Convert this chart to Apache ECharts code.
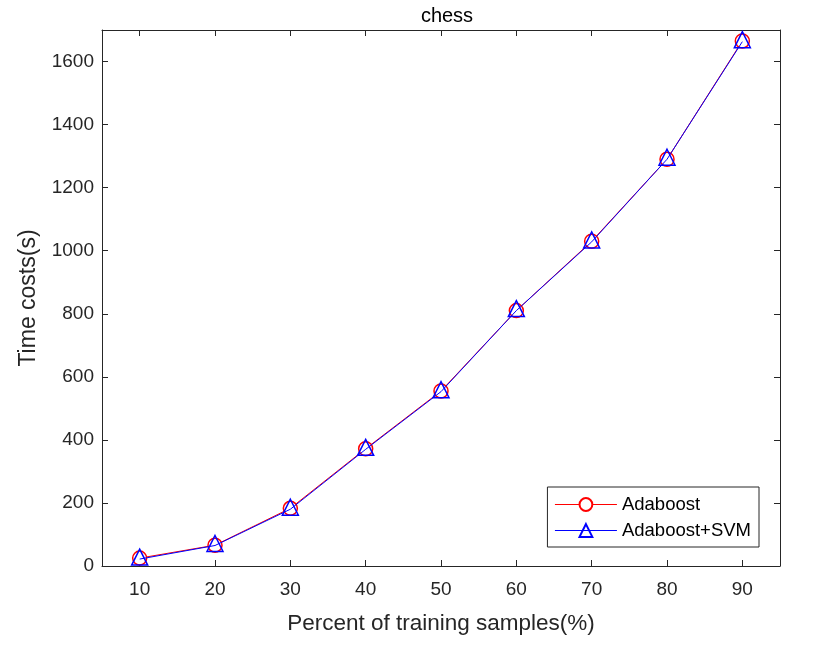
<!DOCTYPE html>
<html>
<head>
<meta charset="utf-8">
<script src="https://cdn.jsdelivr.net/npm/echarts@6/dist/echarts.min.js"></script>
<style>
  html, body { margin: 0; padding: 0; background: #fff; }
  #chart { width: 833px; height: 656px; }
</style>
</head>
<body>
<div id="chart"></div>
<script>
const percents = [10, 20, 30, 40, 50, 60, 70, 80, 90]
const adaboost = [25, 66, 183, 372, 555, 810, 1030, 1290, 1665]
const adaboostSvm = [22, 65, 180, 370, 553, 810, 1028, 1290, 1663]
const xTicks = [10, 20, 30, 40, 50, 60, 70, 80, 90]

const font = 'Liberation Sans, Arial, Helvetica, sans-serif'
const axisColor = '#262626'

const chart = echarts.init(document.getElementById('chart'))

const toPairs = vals => percents.map((p, i) => [p, vals[i]])

const axisCommon = {
  axisLine: { show: true, onZero: false, lineStyle: { color: axisColor, width: 1 } },
  splitLine: { show: false }
}
const tickStyle = { show: true, inside: true, length: 6, lineStyle: { color: axisColor } }

chart.setOption({
  animation: false,
  backgroundColor: '#fff',
  title: {
    text: 'chess',
    left: 442,
    top: 1,
    textAlign: 'center',
    textStyle: { fontFamily: font, fontWeight: 'normal', fontSize: 20, color: '#000' }
  },
  grid: { left: 102, right: 53, top: 30, bottom: 90, containLabel: false },
  legend: {
    right: 74,
    top: 487,
    orient: 'vertical',
    backgroundColor: '#fff',
    borderColor: axisColor,
    borderWidth: 1,
    borderRadius: 0,
    padding: [8, 8, 7, 7],
    itemGap: 7,
    itemWidth: 62,
    itemHeight: 16,
    itemTextGap: 5,
    lineStyle: { width: 1 },
    textStyle: { fontFamily: font, fontSize: 18.5, color: '#000' },
    data: ['Adaboost', 'Adaboost+SVM']
  },
  xAxis: [
    {
      type: 'value',
      min: 5,
      max: 95,
      ...axisCommon,
      axisTick: { ...tickStyle, customValues: xTicks },
      axisLabel: {
        fontFamily: font, fontSize: 19, color: axisColor, margin: 14,
        customValues: xTicks
      },
      name: 'Percent of training samples(%)',
      nameLocation: 'middle',
      nameGap: 46,
      nameTextStyle: { fontFamily: font, fontSize: 22.5, color: axisColor }
    },
    {
      type: 'value',
      position: 'top',
      min: 5,
      max: 95,
      ...axisCommon,
      axisTick: { ...tickStyle, customValues: xTicks },
      axisLabel: { show: false, customValues: xTicks }
    }
  ],
  yAxis: [
    {
      type: 'value',
      min: 0,
      max: 1700,
      interval: 200,
      ...axisCommon,
      axisTick: tickStyle,
      axisLabel: {
        fontFamily: font, fontSize: 19, color: axisColor, margin: 8,
        showMaxLabel: false,
        formatter: v => String(v)
      },
      name: 'Time costs(s)',
      nameLocation: 'middle',
      nameGap: 62,
      nameTextStyle: { fontFamily: font, fontSize: 23, color: axisColor }
    },
    {
      type: 'value',
      position: 'right',
      min: 0,
      max: 1700,
      interval: 200,
      ...axisCommon,
      axisTick: tickStyle,
      axisLabel: { show: false }
    }
  ],
  series: [
    {
      name: 'Adaboost',
      type: 'line',
      data: toPairs(adaboost),
      symbol: 'circle',
      symbolSize: 14,
      showAllSymbol: true,
      lineStyle: { color: '#ff0000', width: 1 },
      itemStyle: { color: '#fff', borderColor: '#ff0000', borderWidth: 1.5 },
      z: 2
    },
    {
      name: 'Adaboost+SVM',
      type: 'line',
      data: toPairs(adaboostSvm),
      symbol: 'triangle',
      symbolSize: 16,
      symbolOffset: [0, -2],
      showAllSymbol: true,
      lineStyle: { color: '#0000ff', width: 1 },
      itemStyle: { color: 'rgba(255,255,255,0)', borderColor: '#0000ff', borderWidth: 1.5 },
      z: 3
    }
  ]
})
</script>
</body>
</html>
